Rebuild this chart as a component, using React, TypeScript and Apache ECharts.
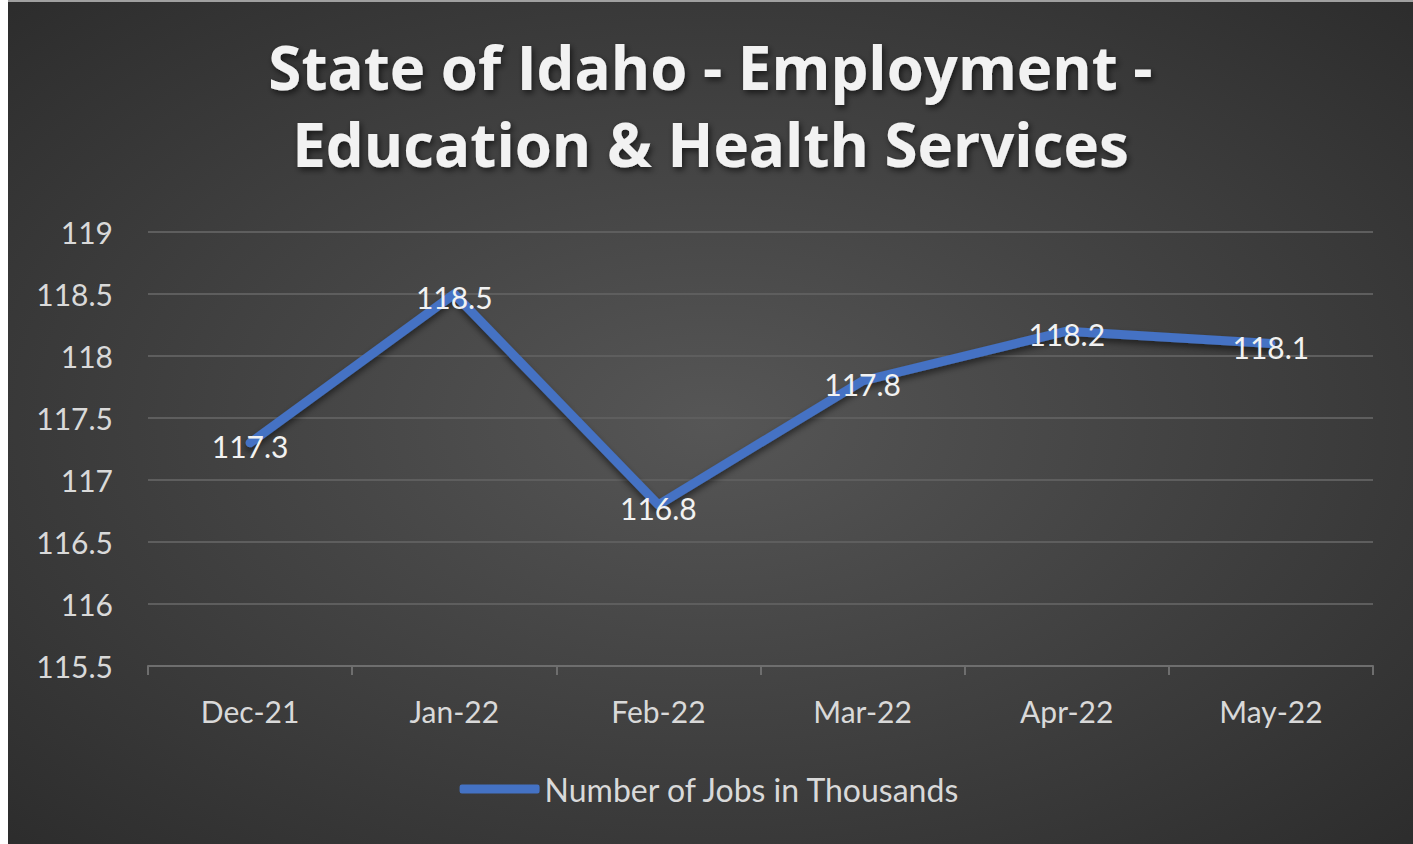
import React, { useEffect, useRef } from "react";
import * as echarts from "echarts";

const categories = ["Dec-21", "Jan-22", "Feb-22", "Mar-22", "Apr-22", "May-22"];
const jobs = [117.3, 118.5, 116.8, 117.8, 118.2, 118.1];
const seriesName = "Number of Jobs in Thousands";
const titleText = "State of Idaho - Employment -\nEducation & Health Services";

export default function App() {
  const ref = useRef<HTMLDivElement>(null);
  useEffect(() => {
    if (!ref.current) return;
    const chart = echarts.init(ref.current, null, { renderer: "svg" });
    const labelColor = "#d9d9d9";
    chart.setOption({
      animation: false,
      backgroundColor: {
        type: "radial",
        x: 0.5,
        y: 0.5,
        r: 0.75,
        colorStops: [
          { offset: 0, color: "#565656" },
          { offset: 1, color: "#2a2a2a" },
        ],
      },
      title: {
        text: titleText,
        left: "center",
        top: 21,
        textStyle: {
          fontFamily: "Open Sans",
          fontWeight: "bold",
          fontSize: 60,
          lineHeight: 77,
          color: "#f2f2f2",
          textShadowColor: "rgba(0,0,0,0.6)",
          textShadowBlur: 6,
          textShadowOffsetX: 2,
          textShadowOffsetY: 3,
        },
      },
      legend: {
        bottom: 34,
        left: "center",
        itemWidth: 80,
        itemHeight: 9,
        itemGap: 4,
        data: [{ name: seriesName, icon: "roundRect" }],
        textStyle: { color: labelColor, fontFamily: "Lato", fontSize: 32 },
      },
      grid: { left: 140, right: 40, top: 230, bottom: 178, containLabel: false },
      xAxis: {
        type: "category",
        data: categories,
        boundaryGap: true,
        axisLine: { lineStyle: { color: "#6e6e6e", width: 2 } },
        axisTick: { show: true, length: 9, lineStyle: { color: "#6e6e6e", width: 2 } },
        axisLabel: { color: labelColor, fontFamily: "Lato", fontSize: 30, margin: 30 },
      },
      yAxis: {
        type: "value",
        min: 115.5,
        max: 119,
        interval: 0.5,
        axisLine: { show: false },
        axisTick: { show: false },
        splitLine: { lineStyle: { color: "#5e5e5e", width: 2 } },
        axisLabel: { color: labelColor, fontFamily: "Lato", fontSize: 30, margin: 35 },
      },
      series: [
        {
          name: seriesName,
          type: "line",
          data: jobs,
          symbol: "circle",
          symbolSize: 1,
          itemStyle: { color: "#4472c4" },
          lineStyle: {
            color: "#4472c4",
            width: 9,
            cap: "round",
            join: "round",
            shadowColor: "rgba(0,0,0,0.5)",
            shadowBlur: 6,
            shadowOffsetY: 4,
          },
          label: {
            show: true,
            position: "inside",
            offset: [0, 3],
            color: "#f2f2f2",
            fontFamily: "Lato",
            fontSize: 30,
          },
        },
      ],
    });
    return () => chart.dispose();
  }, []);
  return (
    <div
      style={{
        position: "absolute",
        left: 8,
        top: 0,
        width: 1405,
        height: 844,
        borderTop: "2px solid #a0a0a0",
        boxSizing: "border-box",
      }}
    >
      <div ref={ref} style={{ width: 1405, height: 842 }} />
    </div>
  );
}
